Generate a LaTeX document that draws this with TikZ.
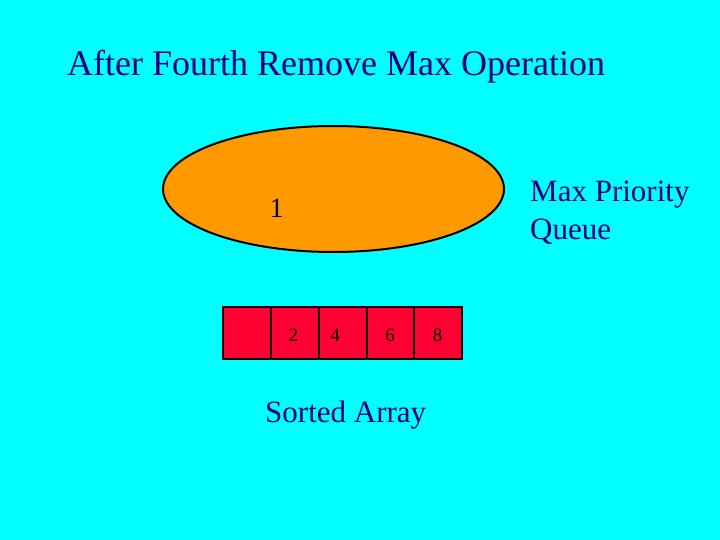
\documentclass[tikz,border=0pt]{standalone}
\usepackage{fontspec}
\setmainfont{Liberation Serif}
\usetikzlibrary{positioning,shapes.geometric}

\definecolor{slidebg}{RGB}{0,255,255}
\definecolor{queuefill}{RGB}{255,153,0}
\definecolor{cellfill}{RGB}{255,0,51}
\definecolor{labelblue}{RGB}{0,0,128}

\tikzset{
  cellbox/.style={draw, line width=2pt, fill=cellfill, rectangle,
    minimum width=47.8pt, minimum height=52pt, inner sep=0pt, outer sep=0pt},
  cellnum/.style={anchor=base, inner sep=0pt, font=\fontsize{19}{23}\selectfont},
  bigtext/.style={inner sep=0pt, text=labelblue, font=\fontsize{31}{38}\selectfont}
}

\begin{document}
\begin{tikzpicture}[x=1pt, y=-1pt]

  \newcommand\CY{333};

  \fill[slidebg] (0,0) rectangle (720,540);

  \node[anchor=base west, inner sep=0pt, text=labelblue,
    font=\fontsize{36}{43}\selectfont] (title) at (67,76)
    {After Fourth Remove Max Operation};

  %% the heap
  \node[draw, line width=2pt, fill=queuefill, ellipse,
    minimum width=341pt, minimum height=126pt] (queue) at (333.5,189) {};
  \node[anchor=base, inner sep=0pt, font=\fontsize{28}{34}\selectfont]
    (one) at (276.5,218) {1};
  \node[bigtext, anchor=base west, align=left] (queuelabel) at (530,240)
    {Max Priority\\Queue};

  %% the sorted array
  \node[cellbox] (c1) at (247,\CY) {};
  \node[cellbox, right=0pt of c1] (c2) {};
  \node[cellbox, right=0pt of c2] (c3) {};
  \node[cellbox, right=0pt of c3] (c4) {};
  \node[cellbox, right=0pt of c4] (c5) {};

  \node[cellnum] (n2) at (293.3,341) {2};
  \node[cellnum] (n4) at (335,341) {4};
  \node[cellnum] (n6) at (390,341) {6};
  \node[cellnum] (n8) at (437.7,341) {8};

  \node[bigtext, anchor=base west] (arraylabel) at (265,422) {Sorted Array};

\end{tikzpicture}
\end{document}
